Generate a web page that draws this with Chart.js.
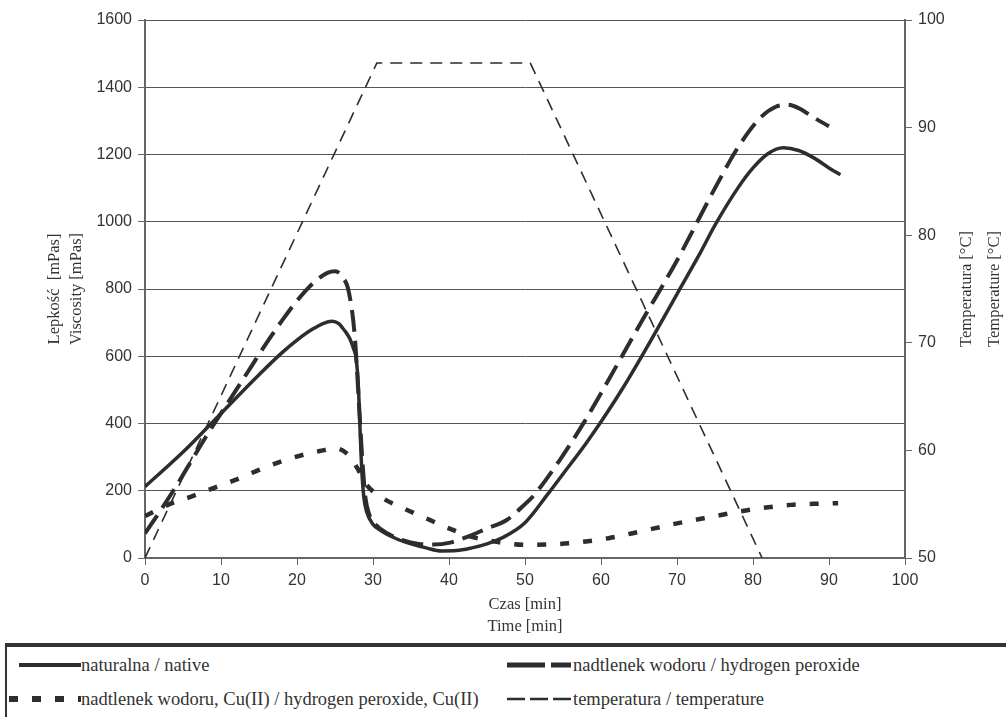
<!DOCTYPE html>
<html lang="pl">
<head>
    <meta charset="UTF-8">
    <title>Lepkość / Viscosity</title>
    <style>
        body { margin: 0; background: #fff; width: 1006px; height: 717px; overflow: hidden; position: relative; }
        #chartBox { position: absolute; left: 0; top: 0; width: 1006px; height: 640px; }
        .legend { position: absolute; left: 5px; top: 643px; width: 1001px; height: 80px;
                  border-top: 4px solid #333; border-left: 2px solid #333; box-sizing: border-box; }
        .item { position: absolute; font-family: "Liberation Serif", "Times New Roman", serif;
                font-size: 18.5px; color: #333; white-space: nowrap; line-height: 20px; }
        .item svg { position: absolute; }
    </style>
</head>
<body>
    <div id="chartBox"><canvas id="viscChart" width="1006" height="640"></canvas></div>

    <!-- legend below the plot -->
    <div class="legend" id="legend"></div>

    <script src="https://cdn.jsdelivr.net/npm/chart.js"></script>
    <script>
        // values
        const nativeTime = [0, 5, 10, 15, 18, 20, 22, 23.5, 24.6, 25.5, 26, 26.5, 27, 27.4, 27.8, 28.1, 28.3, 28.5, 28.8, 29.2, 30, 31, 33, 35, 37, 39, 41, 43, 45, 47, 50, 53, 55, 58, 60, 63, 66, 70, 73, 75, 78, 80, 82, 84, 86, 88, 90, 91.5];
        const nativeVisc = [212, 315, 430, 545, 610, 648, 680, 698, 704, 697, 684, 669, 650, 625, 590, 500, 380, 270, 180, 135, 100, 82, 58, 42, 30, 21, 22, 30, 42, 60, 105, 190, 250, 340, 405, 510, 625, 785, 905, 990, 1100, 1160, 1203, 1220, 1212, 1190, 1160, 1140];

        const peroxTime = [0, 2, 4, 6, 8, 10, 12, 14, 16, 18, 20, 22, 24, 25, 26, 26.8, 27.6, 28.2, 28.6, 29, 29.5, 30, 32, 34, 36, 38, 40, 43, 45, 47.6, 50, 51, 54.6, 57.7, 60, 65, 70, 75, 78, 81, 83, 84.5, 86, 88, 90];
        const peroxVisc = [73, 140, 210, 285, 360, 430, 500, 570, 640, 705, 765, 815, 848, 853, 835, 793, 660, 440, 290, 180, 130, 108, 72, 52, 42, 40, 45, 68, 88, 113, 160, 182, 292, 401, 490, 690, 885, 1100, 1220, 1310, 1342, 1348, 1338, 1310, 1284];

        const cuTime = [0, 3, 6, 9, 12, 15, 18, 21, 23, 25, 26, 27, 28, 29, 31, 34, 37, 40, 43, 46, 50, 54, 58, 61, 64, 67, 70, 73.5, 77, 81, 85, 88, 91.2];
        const cuVisc = [125, 158, 182, 208, 233, 262, 288, 308, 318, 326, 320, 300, 265, 222, 182, 148, 118, 88, 63, 49, 39, 41, 49, 59, 73, 88, 103, 118, 133, 148, 158, 161, 163];

        const tempTime = [0, 30.5, 50.7, 81.2];
        const tempValues = [50, 96, 96, 50];

        const seriesNames = [
            'naturalna / native',
            'nadtlenek wodoru / hydrogen peroxide',
            'nadtlenek wodoru, Cu(II) / hydrogen peroxide, Cu(II)',
            'temperatura / temperature'
        ];
        const yTitle = ['Lepkość  [mPas]', 'Viscosity [mPas]'];
        const y2Title = ['Temperatura [°C]', 'Temperature [°C]'];
        const xTitle = ['Czas [min]', 'Time [min]'];

        function pairs(xs, ys) {
            return xs.map((x, i) => ({ x: x, y: ys[i] }));
        }

        const lineColor = '#2d2d2d';
        const serif = '"Liberation Serif", "Times New Roman", serif';

        // axis titles, drawn by hand because the right one reads bottom-up
        const axisTitles = {
            id: 'axisTitles',
            afterDraw(chart) {
                const ctx = chart.ctx;
                const a = chart.chartArea;
                const midY = (a.top + a.bottom) / 2;
                const midX = (a.left + a.right) / 2;
                ctx.save();
                ctx.fillStyle = '#333';
                ctx.font = '16.5px ' + serif;
                ctx.textAlign = 'center';
                ctx.textBaseline = 'middle';
                const vert = (txt, x) => {
                    ctx.save();
                    ctx.translate(x, midY);
                    ctx.rotate(-Math.PI / 2);
                    ctx.fillText(txt, 0, 0);
                    ctx.restore();
                };
                vert(yTitle[0], 55);
                vert(yTitle[1], 77);
                vert(y2Title[0], 967);
                vert(y2Title[1], 995);
                ctx.fillText(xTitle[0], midX, 605);
                ctx.fillText(xTitle[1], midX, 627);
                ctx.restore();
            }
        };

        const tickFont = { family: '"Liberation Sans", Arial, sans-serif', size: 16 };
        const plainNumber = v => String(v);

        new Chart(document.getElementById('viscChart'), {
            type: 'line',
            data: {
                datasets: [
                    {
                        label: seriesNames[0],
                        data: pairs(nativeTime, nativeVisc),
                        borderColor: lineColor,
                        borderWidth: 3.5,
                        cubicInterpolationMode: 'monotone',
                        yAxisID: 'y'
                    },
                    {
                        label: seriesNames[1],
                        data: pairs(peroxTime, peroxVisc),
                        borderColor: lineColor,
                        borderWidth: 4,
                        borderDash: [22, 9],
                        cubicInterpolationMode: 'monotone',
                        yAxisID: 'y'
                    },
                    {
                        label: seriesNames[2],
                        data: pairs(cuTime, cuVisc),
                        borderColor: lineColor,
                        borderWidth: 4.5,
                        borderDash: [9, 14],
                        cubicInterpolationMode: 'monotone',
                        yAxisID: 'y'
                    },
                    {
                        label: seriesNames[3],
                        data: pairs(tempTime, tempValues),
                        borderColor: lineColor,
                        borderWidth: 1.6,
                        borderDash: [12, 8],
                        tension: 0,
                        yAxisID: 'y2'
                    }
                ]
            },
            options: {
                responsive: false,
                animation: false,
                events: [],
                elements: { point: { radius: 0 } },
                layout: { padding: { top: 20, left: 0, right: 0, bottom: 0 } },
                plugins: {
                    legend: { display: false },
                    tooltip: { enabled: false }
                },
                scales: {
                    x: {
                        type: 'linear',
                        min: 0,
                        max: 100,
                        ticks: { stepSize: 10, color: '#333', font: tickFont, padding: 6, maxRotation: 0, callback: plainNumber },
                        grid: { drawOnChartArea: false, tickLength: 7, tickColor: '#666' },
                        border: { color: '#6b6363', width: 2 },
                        afterFit(s) { s.height = 82; }
                    },
                    y: {
                        position: 'left',
                        min: 0,
                        max: 1600,
                        ticks: { stepSize: 200, color: '#333', font: tickFont, padding: 6, callback: plainNumber },
                        grid: { color: '#555', lineWidth: 1, tickLength: 7, tickColor: '#666' },
                        border: { color: '#6b6363', width: 2 },
                        afterFit(s) { s.width = 145; }
                    },
                    y2: {
                        position: 'right',
                        min: 50,
                        max: 100,
                        ticks: { stepSize: 10, color: '#333', font: tickFont, padding: 6, callback: plainNumber },
                        grid: { drawOnChartArea: false, tickLength: 7, tickColor: '#666' },
                        border: { color: '#6b6363', width: 2 },
                        afterFit(s) { s.width = 101; }
                    }
                }
            },
            plugins: [axisTitles]
        });

        // legend: sample line + label, placed like the original
        const legendItems = [
            { name: seriesNames[0], x: 12, y: 8, w: 62, pad: 62, dash: '', sw: 4 },
            { name: seriesNames[1], x: 500, y: 8, w: 64, pad: 66, dash: '38,6', sw: 5 },
            { name: seriesNames[2], x: 2, y: 42, w: 72, pad: 72, dash: '9,14', sw: 6 },
            { name: seriesNames[3], x: 500, y: 42, w: 64, pad: 66, dash: '18,5', sw: 2.5 }
        ];
        const legend = document.getElementById('legend');
        legendItems.forEach(it => {
            const d = document.createElement('div');
            d.className = 'item';
            d.style.left = it.x + 'px';
            d.style.top = it.y + 'px';
            d.style.paddingLeft = it.pad + 'px';
            d.innerHTML = '<svg width="' + it.w + '" height="20" style="left:0;top:0">' +
                '<line x1="0" y1="10" x2="' + it.w + '" y2="10" stroke="#2d2d2d" stroke-width="' + it.sw + '"' +
                (it.dash ? ' stroke-dasharray="' + it.dash + '"' : '') + '/></svg>';
            d.appendChild(document.createTextNode(it.name));
            legend.appendChild(d);
        });
    </script>
</body>
</html>
